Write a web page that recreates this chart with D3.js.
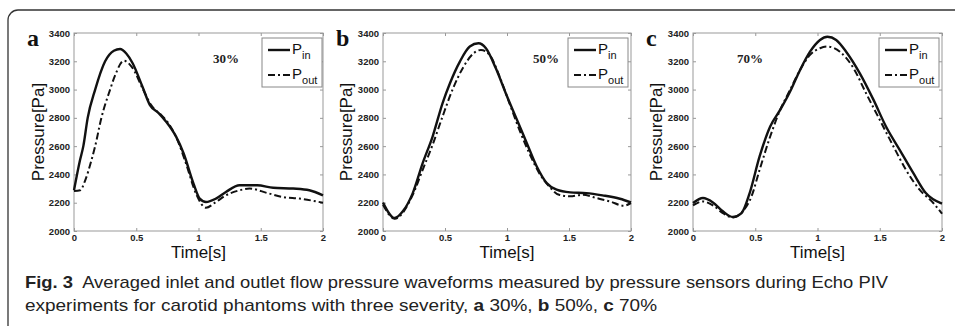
<!DOCTYPE html>
<html>
<head>
<meta charset="utf-8">
<script src="https://cdn.jsdelivr.net/npm/d3@7"></script>
<style>
  body { margin: 0; background: #fff; }
  svg { display: block; }
</style>
</head>
<body>
<script>
// time [s] and pressure [Pa]
var tInA  = [0,0.048,0.075,0.11,0.17,0.25,0.32,0.37,0.42,0.47,0.55,0.61,0.68,0.74,0.82,0.88,0.96,1.01,1.06,1.14,1.22,1.33,1.47,1.60,1.76,1.89,2.0];
var pInA  = [2288,2500,2600,2800,3000,3200,3275,3287,3255,3188,3020,2890,2834,2773,2667,2550,2335,2229,2205,2229,2276,2323,2323,2306,2300,2288,2252];
var tOutA = [0,0.05,0.09,0.14,0.17,0.22,0.29,0.33,0.40,0.47,0.55,0.62,0.70,0.76,0.82,0.90,0.98,1.06,1.14,1.22,1.33,1.41,1.55,1.68,1.81,2.0];
var pOutA = [2283,2288,2358,2500,2600,2800,3000,3100,3204,3153,3010,2890,2820,2760,2665,2476,2264,2165,2205,2252,2288,2300,2269,2240,2229,2200];

var tInB  = [0,0.094,0.16,0.24,0.32,0.40,0.48,0.54,0.62,0.70,0.77,0.83,0.91,0.99,1.08,1.16,1.24,1.32,1.40,1.51,1.64,1.77,1.91,2.0];
var pInB  = [2202,2092,2139,2268,2480,2668,2903,3045,3198,3304,3327,3292,3150,2974,2786,2621,2456,2339,2292,2273,2268,2252,2228,2202];
var tOutB = [0,0.094,0.24,0.32,0.40,0.48,0.56,0.65,0.73,0.79,0.86,0.94,1.02,1.10,1.18,1.26,1.34,1.42,1.51,1.61,1.72,1.83,1.94,2.0];
var pOutB = [2186,2087,2256,2433,2609,2809,2998,3162,3256,3280,3245,3092,2903,2715,2550,2409,2315,2256,2245,2256,2233,2209,2179,2198];

var tInC  = [0,0.08,0.16,0.24,0.32,0.39,0.455,0.535,0.62,0.70,0.78,0.86,0.94,1.02,1.08,1.15,1.23,1.34,1.45,1.55,1.66,1.77,1.87,2.0];
var pInC  = [2198,2233,2202,2139,2099,2127,2268,2527,2739,2856,2986,3139,3268,3351,3374,3351,3268,3115,2927,2739,2574,2409,2268,2193];
var tOutC = [0,0.08,0.16,0.24,0.32,0.40,0.47,0.535,0.62,0.70,0.78,0.86,0.94,1.02,1.08,1.18,1.29,1.39,1.50,1.61,1.71,1.82,1.93,2.0];
var pOutC = [2181,2209,2181,2127,2096,2139,2245,2433,2668,2856,2998,3139,3245,3292,3304,3268,3150,2974,2786,2598,2433,2292,2198,2122];

var xTicks = [0, 0.5, 1, 1.5, 2];
var xTickLabels = ["0", "0.5", "1", "1.5", "2"];
var yTicks = [2000, 2200, 2400, 2600, 2800, 3000, 3200, 3400];
var panelLetters = ["a", "b", "c"];
var severities = ["30%", "50%", "70%"];
var seriesNames = ["in", "out"];

var W = 955, H = 326;
var svg = d3.select("body").append("svg").attr("width", W).attr("height", H);

// outer frame (right and bottom edges fall outside the picture)
svg.append("rect")
  .attr("x", 8).attr("y", 10).attr("width", 990).attr("height", 340)
  .attr("rx", 10).attr("fill", "none").attr("stroke", "#333").attr("stroke-width", 1.3);

var panels = [
  {left: 74,  right: 323, tIn: tInA, pIn: pInA, tOut: tOutA, pOut: pOutA, sevX: 226, legL: 262, yLab: 38},
  {left: 383, right: 631, tIn: tInB, pIn: pInB, tOut: tOutB, pOut: pOutB, sevX: 546, legL: 568, yLab: 346},
  {left: 693, right: 942, tIn: tInC, pIn: pInC, tOut: tOutC, pOut: pOutC, sevX: 750, legL: 879, yLab: 656}
];
var plotTop = 33, plotBottom = 231;

panels.forEach(function(p, i){
  var x = d3.scaleLinear().domain([0, 2]).range([p.left, p.right]);
  var y = d3.scaleLinear().domain([2000, 3400]).range([plotBottom, plotTop]);
  var g = svg.append("g");

  // box
  g.append("rect")
    .attr("x", p.left).attr("y", plotTop)
    .attr("width", p.right - p.left).attr("height", plotBottom - plotTop)
    .attr("fill", "none").attr("stroke", "#999").attr("stroke-width", 1);

  var xb = g.append("g").attr("transform", "translate(0," + plotBottom + ")")
    .call(d3.axisBottom(x).tickValues(xTicks).tickSizeInner(-3).tickSizeOuter(0)
      .tickPadding(5).tickFormat(function(d, k){ return xTickLabels[k]; }));
  var xt = g.append("g").attr("transform", "translate(0," + plotTop + ")")
    .call(d3.axisTop(x).tickValues(xTicks).tickSizeInner(-3).tickSizeOuter(0).tickFormat(""));
  var yl = g.append("g").attr("transform", "translate(" + p.left + ",0)")
    .call(d3.axisLeft(y).tickValues(yTicks).tickSizeInner(-3).tickSizeOuter(0).tickPadding(4)
      .tickFormat(d3.format("d")));
  var yr = g.append("g").attr("transform", "translate(" + p.right + ",0)")
    .call(d3.axisRight(y).tickValues(yTicks).tickSizeInner(-3).tickSizeOuter(0).tickFormat(""));
  [xb, xt, yl, yr].forEach(function(a){
    a.select(".domain").remove();
    a.selectAll("line").attr("stroke", "#999");
    a.selectAll("text").attr("fill", "#222").attr("font-family", "Liberation Sans, Arial, sans-serif")
      .attr("font-size", 9.5).attr("font-weight", "bold");
  });
  xb.selectAll("text").attr("y", 3).attr("dy", "0.71em");

  // curves
  var line = d3.line()
    .x(function(d){ return x(d[0]); })
    .y(function(d){ return y(d[1]); })
    .curve(d3.curveMonotoneX);
  var inPts = p.tIn.map(function(t, k){ return [t, p.pIn[k]]; });
  var outPts = p.tOut.map(function(t, k){ return [t, p.pOut[k]]; });
  g.append("path").datum(outPts).attr("d", line).attr("fill", "none")
    .attr("stroke", "#111").attr("stroke-width", 2).attr("stroke-dasharray", "7,3,2,3");
  g.append("path").datum(inPts).attr("d", line).attr("fill", "none")
    .attr("stroke", "#111").attr("stroke-width", 2.4);

  // axis titles
  g.append("text").attr("x", (p.left + p.right) / 2).attr("y", 258)
    .attr("text-anchor", "middle").attr("font-family", "Liberation Sans, Arial, sans-serif")
    .attr("font-size", 17).attr("fill", "#111").text("Time[s]");
  g.append("text").attr("transform", "translate(" + (p.yLab + 6) + "," + ((plotTop + plotBottom) / 2) + ") rotate(-90)")
    .attr("text-anchor", "middle").attr("font-family", "Liberation Sans, Arial, sans-serif")
    .attr("font-size", 17).attr("fill", "#111").text("Pressure[Pa]");

  // panel letter and severity
  g.append("text").attr("x", p.left - 47).attr("y", 46)
    .attr("font-family", "Liberation Serif, Times New Roman, serif").attr("font-weight", "bold")
    .attr("font-size", 24).attr("fill", "#111").text(panelLetters[i]);
  g.append("text").attr("x", p.sevX).attr("y", 63).attr("text-anchor", "middle")
    .attr("font-family", "Liberation Serif, Times New Roman, serif").attr("font-weight", "bold")
    .attr("font-size", 13).attr("fill", "#222").text(severities[i]);

  // legend
  var lg = g.append("g").attr("transform", "translate(" + p.legL + ",38)");
  lg.append("rect").attr("width", 60).attr("height", 49)
    .attr("fill", "#fff").attr("stroke", "#888").attr("stroke-width", 1);
  seriesNames.forEach(function(s, k){
    var yy = 12 + k * 25;
    lg.append("line").attr("x1", 6).attr("x2", 28).attr("y1", yy).attr("y2", yy)
      .attr("stroke", "#111").attr("stroke-width", k ? 2 : 2.4)
      .attr("stroke-dasharray", k ? "7,3,2,3" : null);
    var tx = lg.append("text").attr("x", 30).attr("y", yy + 4)
      .attr("font-family", "Liberation Sans, Arial, sans-serif").attr("font-size", 15).attr("fill", "#111");
    tx.append("tspan").text("P");
    tx.append("tspan").attr("dy", 5).attr("font-size", 11).text(s);
  });
});

// caption
var cap = svg.append("g").attr("font-family", "Liberation Sans, Arial, sans-serif")
  .attr("font-size", 17).attr("fill", "#222");
var l1 = cap.append("text").attr("x", 25).attr("y", 288)
  .attr("textLength", 863).attr("lengthAdjust", "spacingAndGlyphs");
l1.append("tspan").attr("font-weight", "bold").text("Fig. 3");
l1.append("tspan").text("\u00a0 Averaged inlet and outlet flow pressure waveforms measured by pressure sensors during Echo PIV");
var l2 = cap.append("text").attr("x", 25).attr("y", 311)
  .attr("textLength", 632).attr("lengthAdjust", "spacingAndGlyphs");
l2.append("tspan").text("experiments for carotid phantoms with three severity, ");
l2.append("tspan").attr("font-weight", "bold").text("a");
l2.append("tspan").text(" 30%, ");
l2.append("tspan").attr("font-weight", "bold").text("b");
l2.append("tspan").text(" 50%, ");
l2.append("tspan").attr("font-weight", "bold").text("c");
l2.append("tspan").text(" 70%");
</script>
</body>
</html>
